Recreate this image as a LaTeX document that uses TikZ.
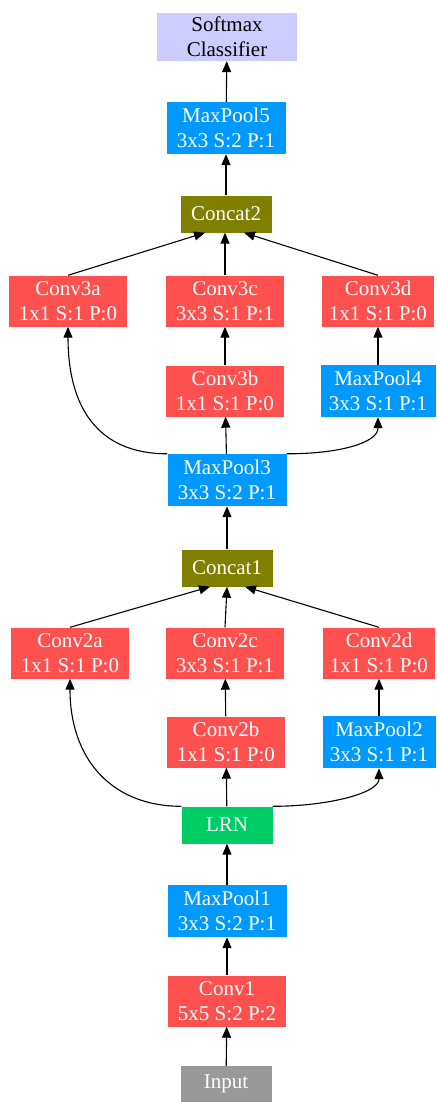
\documentclass[tikz,border=0pt]{standalone}
\usepackage{fontspec}
\setmainfont{Liberation Serif}
\usepackage{tikz}
\usetikzlibrary{arrows.meta}
\usepackage{xcolor}

\definecolor{convred}{RGB}{255,80,80}
\definecolor{poolblue}{RGB}{0,153,255}
\definecolor{catolive}{RGB}{128,128,0}
\definecolor{lrngreen}{RGB}{0,204,102}
\definecolor{ingray}{RGB}{153,153,153}
\definecolor{smlav}{RGB}{204,204,255}

\begin{document}
\begin{tikzpicture}[
  x=1pt, y=-1pt,
  every node/.style={rectangle, inner sep=0pt, align=center, text=white,
    font=\fontsize{21}{25}\selectfont},
  conv/.style={fill=convred, minimum width=118pt, minimum height=51pt},
  pool/.style={fill=poolblue, minimum width=119pt, minimum height=52pt},
  cat/.style={fill=catolive, minimum width=91pt, minimum height=37pt},
  arr/.style={-{Triangle[length=11pt,width=9pt]}, line width=1.1pt}
]
\useasboundingbox (0,0) rectangle (436,1102);

% output
\node[fill=smlav, text=black, minimum width=140pt, minimum height=48pt] (softmax) at (227,37) {Softmax\\Classifier};
\node[pool] (maxpool5) at (226,128) {MaxPool5\\3x3 S:2 P:1};
\node[cat] (concat2) at (226,214) {Concat2};

% block 3
\node[conv] (conv3a) at (68,301) {Conv3a\\1x1 S:1 P:0};
\node[conv] (conv3c) at (225,301) {Conv3c\\3x3 S:1 P:1};
\node[conv, minimum width=112pt] (conv3d) at (378,301) {Conv3d\\1x1 S:1 P:0};
\node[conv] (conv3b) at (225,391) {Conv3b\\1x1 S:1 P:0};
\node[pool, minimum width=115pt] (maxpool4) at (378,391) {MaxPool4\\3x3 S:1 P:1};
\node[pool] (maxpool3) at (227,480) {MaxPool3\\3x3 S:2 P:1};
\node[cat] (concat1) at (227,568) {Concat1};

% block 2
\node[conv] (conv2a) at (70,653) {Conv2a\\1x1 S:1 P:0};
\node[conv] (conv2c) at (225,653) {Conv2c\\3x3 S:1 P:1};
\node[conv, minimum width=112pt] (conv2d) at (379,653) {Conv2d\\1x1 S:1 P:0};
\node[conv] (conv2b) at (226,742) {Conv2b\\1x1 S:1 P:0};
\node[pool, minimum width=113pt] (maxpool2) at (379,742) {MaxPool2\\3x3 S:1 P:1};
\node[fill=lrngreen, minimum width=91pt, minimum height=37pt] (lrn) at (227,825) {LRN};

% stem
\node[pool] (maxpool1) at (227,911) {MaxPool1\\3x3 S:2 P:1};
\node[conv] (conv1) at (227,1001) {Conv1\\5x5 S:2 P:2};
\node[fill=ingray, minimum width=91pt, minimum height=36pt] (input) at (226,1084) {Input};

% stem edges
\draw[arr] (input) -- (conv1);
\draw[arr] (conv1) -- (maxpool1);
\draw[arr] (maxpool1) -- (lrn);

% block 2 edges
\draw[arr] (lrn.north west) .. controls +(-70,0) and +(0,80) .. (conv2a.south);
\draw[arr] (lrn) -- (conv2b);
\draw[arr] (lrn.north east) .. controls +(55,0) and +(0,25) .. (maxpool2.south);
\draw[arr] (conv2b) -- (conv2c);
\draw[arr] (maxpool2) -- (conv2d);
\draw[arr] (conv2a.north) -- ([xshift=-17pt]concat1.south);
\draw[arr] (conv2c.north) -- (concat1.south);
\draw[arr] (conv2d.north) -- ([xshift=18pt]concat1.south);
\draw[arr] (concat1) -- (maxpool3);

% block 3 edges
\draw[arr] (maxpool3.north west) .. controls +(-70,0) and +(0,80) .. (conv3a.south);
\draw[arr] (maxpool3) -- (conv3b);
\draw[arr] (maxpool3.north east) .. controls +(55,0) and +(0,25) .. (maxpool4.south);
\draw[arr] (conv3b) -- (conv3c);
\draw[arr] (maxpool4) -- (conv3d);
\draw[arr] (conv3a.north) -- ([xshift=-21pt]concat2.south);
\draw[arr] (conv3c.north) -- ([xshift=-1pt]concat2.south);
\draw[arr] (conv3d.north) -- ([xshift=18pt]concat2.south);

% output edges
\draw[arr] (concat2) -- (maxpool5);
\draw[arr] (maxpool5) -- (softmax);

\end{tikzpicture}
\end{document}
